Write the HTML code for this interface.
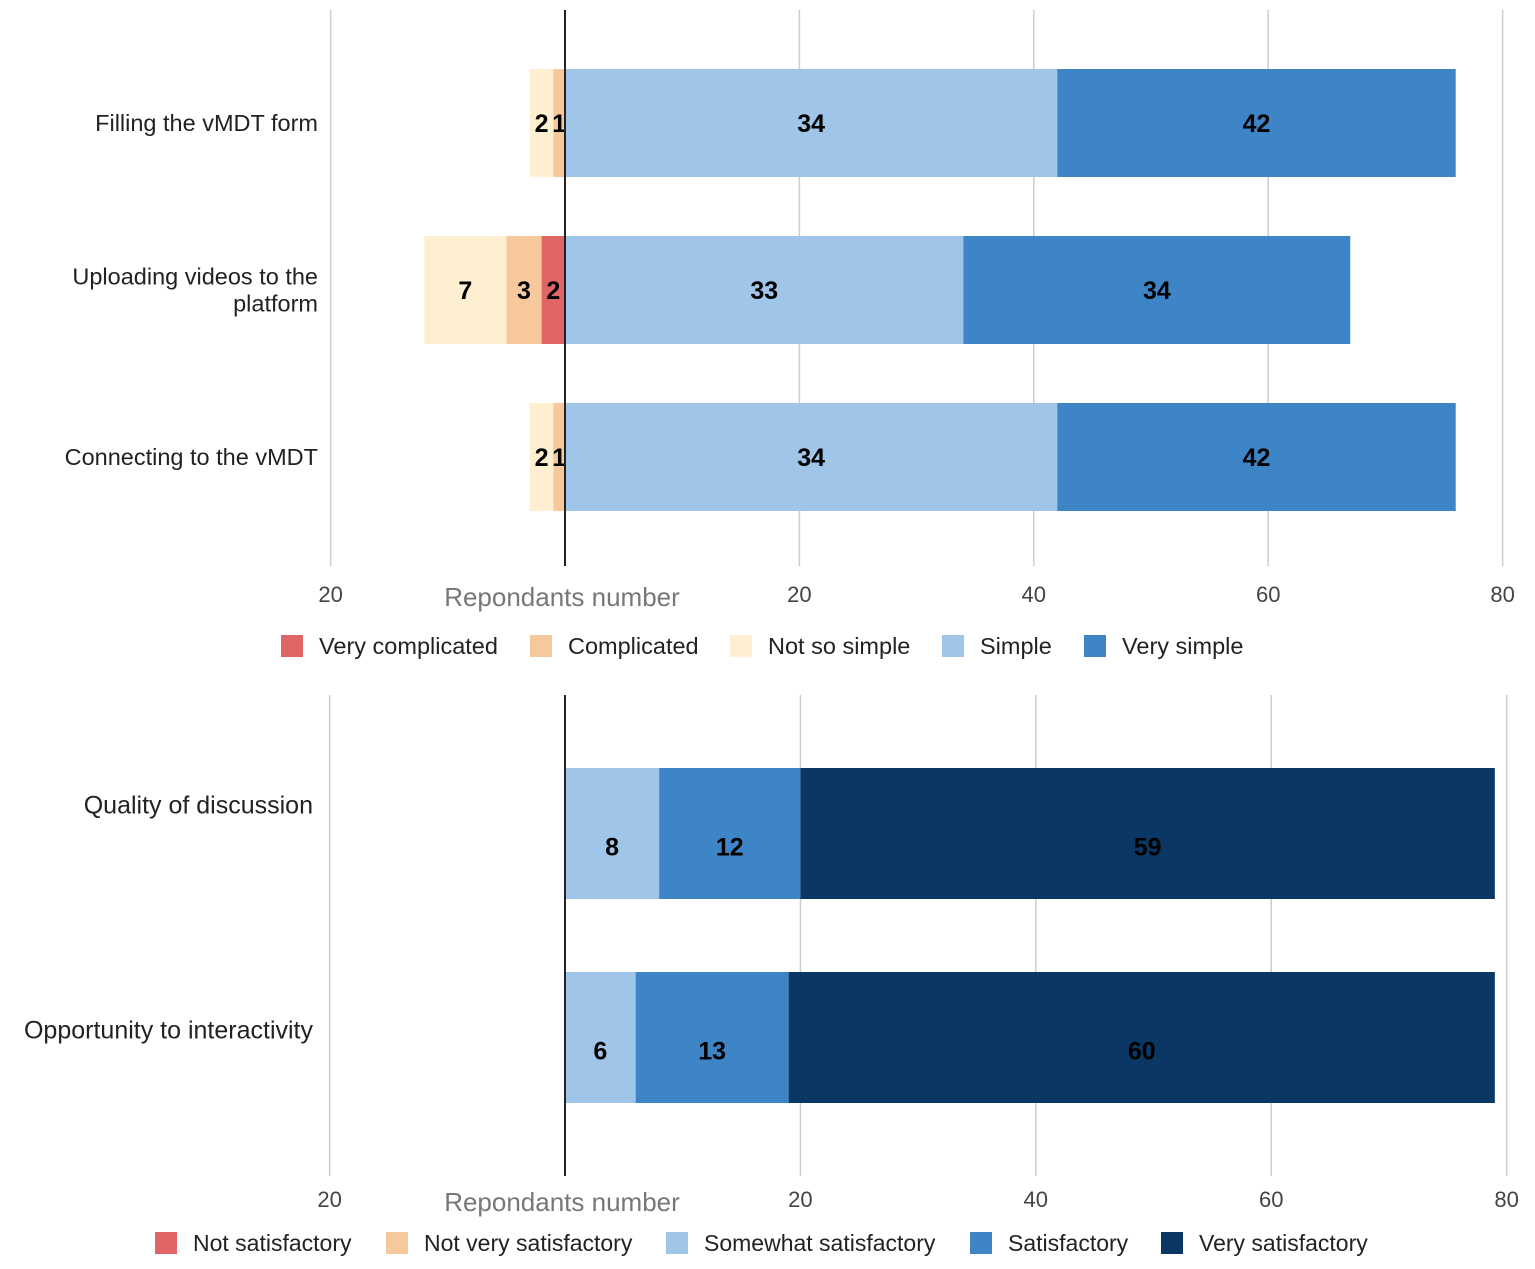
<!DOCTYPE html>
<html><head><meta charset="utf-8">
<style>
body{margin:0;background:#fff;}
svg{display:block;font-family:"Liberation Sans",Arial,sans-serif;}
</style></head>
<body>
<svg id="chart" width="1535" height="1269" viewBox="0 0 1535 1269" xmlns="http://www.w3.org/2000/svg"></svg>
<script>
// ---- Top chart data ----
const topCategories = ["Filling the vMDT form", "Uploading videos to the\nplatform", "Connecting to the vMDT"];
const topSeriesNames = ["Very complicated", "Complicated", "Not so simple", "Simple", "Very simple"];
const topVeryComplicated = [0, 2, 0];
const topComplicated = [1, 3, 1];
const topNotSoSimple = [2, 7, 2];
const topSimple = [42, 34, 42];
const topVerySimple = [34, 33, 34];
const topSimpleLabels = ["34", "33", "34"];
const topVerySimpleLabels = ["42", "34", "42"];
const topTicks = [-20, 20, 40, 60, 80];
const topTickLabels = ["20", "20", "40", "60", "80"];
// ---- Bottom chart data ----
const botCategories = ["Quality of discussion", "Opportunity to interactivity"];
const botSeriesNames = ["Not satisfactory", "Not very satisfactory", "Somewhat satisfactory", "Satisfactory", "Very satisfactory"];
const botNotSatisfactory = [0, 0];
const botNotVery = [0, 0];
const botSomewhat = [8, 6];
const botSatisfactory = [12, 13];
const botVery = [59, 60];
const botTicks = [-20, 20, 40, 60, 80];
const botTickLabels = ["20", "20", "40", "60", "80"];

const svg = document.getElementById('chart');
const NS = "http://www.w3.org/2000/svg";
function mk(tag, attrs, parent){const e=document.createElementNS(NS,tag);for(const k in attrs)e.setAttribute(k,attrs[k]);(parent||svg).appendChild(e);return e;}

const topColors = ["#e06666","#f6c89b","#fdefd0","#9fc5e8","#3d85c6"];
const botColors = ["#e06666","#f6c89b","#9fc5e8","#3d85c6","#0a3764"];

function drawChart(cfg){
  const x = v => cfg.zero + v*cfg.ppu;
  const g = mk('g',{});
  
  
  cfg.ticks.forEach((t,i)=>{
    const gl = mk('line',{x1:x(t),x2:x(t),y1:cfg.gTop,y2:cfg.gBot,stroke:"#cccccc","stroke-width":1.5},g);
    
    
    const tl = mk('text',{x:x(t),y:cfg.tickY,"text-anchor":"middle","font-size":22,fill:"#444"},g);
    tl.textContent = cfg.tickLabels[i];
    
    
  });
  cfg.cats.forEach((c,i)=>{
    const y0 = cfg.barY[i];
    const vy = y0+cfg.barH/2+9+cfg.valDy;
    let pos = 0;
    cfg.neg.forEach((arr,j)=>{
      const v = arr[i]; if(!v) return;
      const r = mk('rect',{x:x(-(pos+v)),y:y0,width:v*cfg.ppu,height:cfg.barH,fill:cfg.colors[j]},g);
      
      
      const t = mk('text',{x:x(-(pos+v/2)),y:vy,"text-anchor":"middle","font-size":25,"font-weight":"bold",fill:"#000"},g);
      t.textContent = v;
      
      
      pos += v;
    });
    pos = 0;
    cfg.pos.forEach((arr,j)=>{
      const v = arr[i]; if(!v) return;
      const r = mk('rect',{x:x(pos),y:y0,width:v*cfg.ppu,height:cfg.barH,fill:cfg.colors[cfg.neg.length+j]},g);
      
      
      const lab = cfg.posLabels ? cfg.posLabels[j][i] : String(v);
      const t = mk('text',{x:x(pos+v/2),y:vy,"text-anchor":"middle","font-size":25,"font-weight":"bold",fill:"#000"},g);
      t.textContent = lab;
      
      
      pos += v;
    });
    const lines = c.split("\n");
    lines.forEach((ln,k)=>{
      const t = mk('text',{x:cfg.catX,y:y0+cfg.barH/2+8+cfg.catDy[i]+(k-(lines.length-1)/2)*27,"text-anchor":"end","font-size":cfg.catFs,fill:"#222"},g);
      t.textContent = ln;
      
      
    });
  });
  const zl = mk('line',{x1:x(0),x2:x(0),y1:cfg.gTop,y2:cfg.gBot,stroke:"#222","stroke-width":2},g);
  
  
  const at = mk('text',{x:cfg.zero-3,y:cfg.tickY+4,"text-anchor":"middle","font-size":26,fill:"#777"},g);
  at.textContent = "Repondants number";
  
  
  cfg.legend.forEach((lx,j)=>{
    const r = mk('rect',{x:lx,y:cfg.legY-11,width:22,height:22,fill:cfg.colors[j]},g);
    
    
    const t = mk('text',{x:lx+38,y:cfg.legY+8,"font-size":cfg.legFs,fill:"#222"},g);
    t.textContent = cfg.series[j];
    
    
  });
}

drawChart({name:"top-chart",zero:565,ppu:11.72,gTop:10,gBot:566,tickY:602,ticks:topTicks,tickLabels:topTickLabels,
  cats:topCategories,barY:[69,236,403],barH:108,catX:318,catFs:23.5,catDy:[0,0,0],valDy:0,
  neg:[topVeryComplicated,topComplicated,topNotSoSimple],pos:[topSimple,topVerySimple],
  posLabels:[topSimpleLabels,topVerySimpleLabels],colors:topColors,series:topSeriesNames,
  legY:646,legFs:23.5,legend:[281,530,730,942,1084]});
drawChart({name:"bottom-chart",zero:565,ppu:11.77,gTop:695,gBot:1176,tickY:1207,ticks:botTicks,tickLabels:botTickLabels,
  cats:botCategories,barY:[768,972],barH:131,catX:313,catFs:25,catDy:[-28,-7],valDy:13,
  neg:[botNotSatisfactory,botNotVery],pos:[botSomewhat,botSatisfactory,botVery],
  colors:botColors,series:botSeriesNames,legY:1243,legFs:23,legend:[155,386,666,970,1161]});
</script>
</body></html>
